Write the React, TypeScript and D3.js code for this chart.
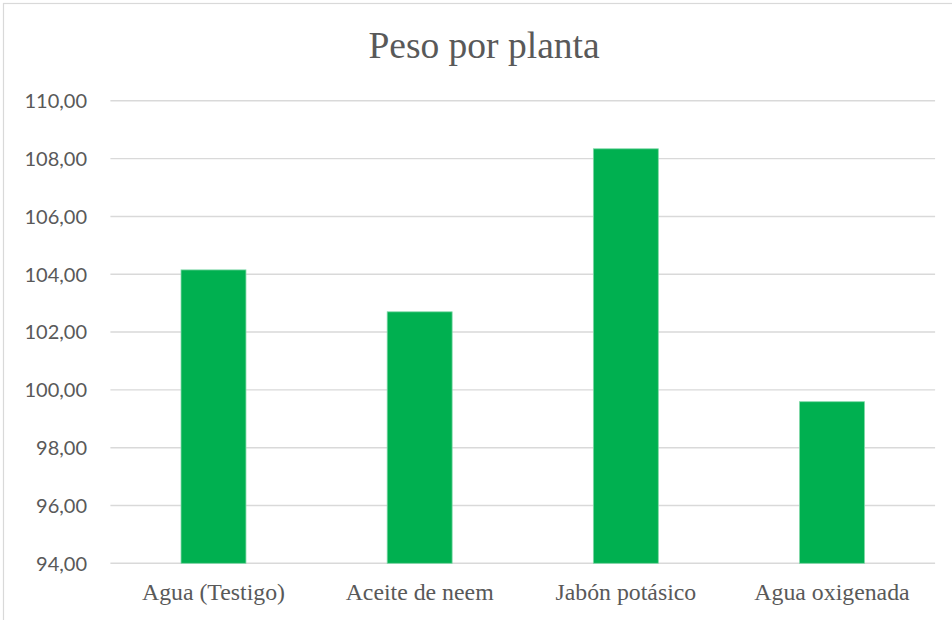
import React, { useEffect, useRef } from "react";
import * as d3 from "d3";

const categories: string[] = ["Agua (Testigo)", "Aceite de neem", "Jabón potásico", "Agua oxigenada"];
const values: number[] = [104.15, 102.7, 108.34, 99.59];
const yTicks: number[] = [94, 96, 98, 100, 102, 104, 106, 108, 110];
const title = "Peso por planta";

export default function App() {
  const ref = useRef<SVGSVGElement | null>(null);

  useEffect(() => {
    const svg = d3.select(ref.current);
    svg.selectAll("*").remove();
    const W = 952, H = 620;
    const left = 110.4, right = 935.1, top = 100.8, bottom = 563.3;

    svg.append("rect")
      .attr("x", 3.5).attr("y", 3.5)
      .attr("width", W + 20).attr("height", H + 20)
      .attr("fill", "#ffffff").attr("stroke", "#d9d9d9").attr("stroke-width", 1.2);

    const x = d3.scaleBand<string>().domain(categories).range([left, right])
      .paddingInner(0.685).paddingOuter(0.3425);
    const y = d3.scaleLinear().domain([94, 110]).range([bottom, top]);

    const grid = svg.append("g");
    grid.selectAll("line").data(yTicks).enter().append("line")
      .attr("x1", left).attr("x2", right)
      .attr("y1", d => y(d)).attr("y2", d => y(d))
      .attr("stroke", "#d9d9d9").attr("stroke-width", 1.4);

    svg.append("g").selectAll("text").data(yTicks).enter().append("text")
      .attr("x", 87).attr("y", d => y(d) + 7.3)
      .attr("text-anchor", "end")
      .attr("font-family", "Lato, 'Open Sans', sans-serif")
      .attr("font-size", 20)
      .attr("fill", "#595959")
      .text(d => d.toFixed(2).replace(".", ","));

    svg.append("g").selectAll("rect").data(values).enter().append("rect")
      .attr("x", (_d, i) => x(categories[i]) as number)
      .attr("width", x.bandwidth())
      .attr("y", d => y(d))
      .attr("height", d => bottom - y(d))
      .attr("fill", "#00b050")
      .attr("stroke", "#7fd8a7").attr("stroke-width", 0.8);

    svg.append("g").selectAll("text").data(categories).enter().append("text")
      .attr("x", d => (x(d) as number) + x.bandwidth() / 2)
      .attr("y", 600)
      .attr("text-anchor", "middle")
      .attr("font-family", "'Liberation Serif', 'Times New Roman', serif")
      .attr("font-size", 23.8)
      .attr("fill", "#595959")
      .text(d => d);

    svg.append("text")
      .attr("x", 484).attr("y", 58)
      .attr("text-anchor", "middle")
      .attr("font-family", "'Liberation Serif', 'Times New Roman', serif")
      .attr("font-size", 37.5)
      .attr("fill", "#595959")
      .text(title);
  }, []);

  return (
    <svg ref={ref} width={952} height={620}
      style={{ position: "absolute", left: 0, top: 0, display: "block" }} />
  );
}
